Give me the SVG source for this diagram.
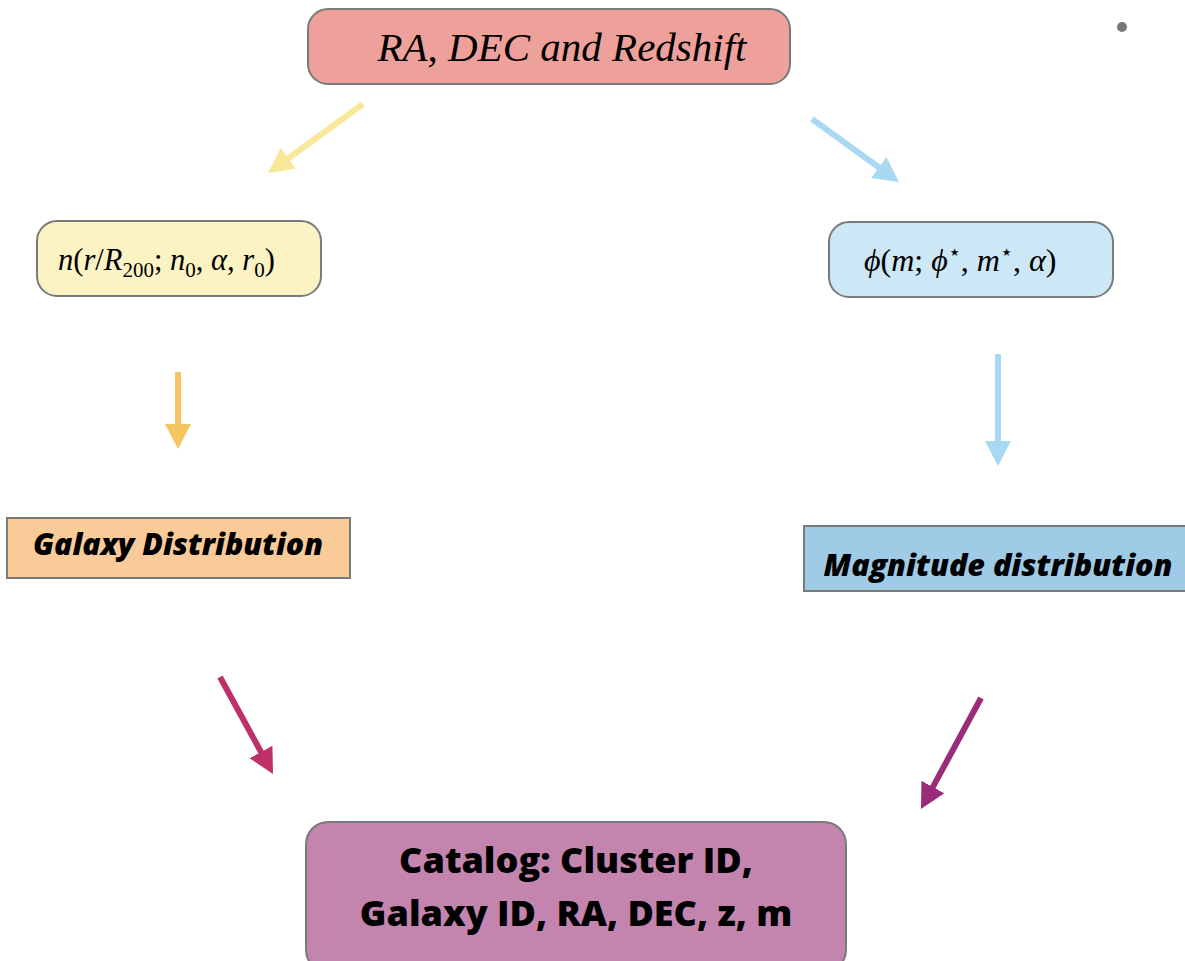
<svg xmlns="http://www.w3.org/2000/svg" width="1185" height="961" viewBox="0 0 1185 961">
<style>
.box{stroke:#7a7a7a;stroke-width:2}
.title{font-family:"Liberation Serif",serif;font-style:italic;font-size:41px;fill:#000}
.math{font-family:"Liberation Serif",serif;font-size:30.5px;fill:#000}
.math2{font-family:"Liberation Serif",serif;font-size:32px;fill:#000}
.it{font-style:italic}
.sub{font-size:21px}
.lab{font-family:"Open Sans",Lato,sans-serif;font-style:italic;font-weight:800;fill:#000}
.cat{font-family:"Open Sans",Lato,sans-serif;font-weight:800;font-size:36px;fill:#000}
.conn line{stroke-width:6;fill:none}
</style>
<defs>
<marker id="mY" markerUnits="userSpaceOnUse" markerWidth="26" markerHeight="28" refX="5" refY="13" orient="auto"><path d="M0,0 L25,13 L0,26 z" fill="#F9E79A"/></marker>
<marker id="mB" markerUnits="userSpaceOnUse" markerWidth="26" markerHeight="28" refX="5" refY="13" orient="auto"><path d="M0,0 L25,13 L0,26 z" fill="#A9D8F2"/></marker>
<marker id="mO" markerUnits="userSpaceOnUse" markerWidth="26" markerHeight="28" refX="5" refY="13" orient="auto"><path d="M0,0 L25,13 L0,26 z" fill="#F5C561"/></marker>
<marker id="mR" markerUnits="userSpaceOnUse" markerWidth="26" markerHeight="28" refX="5" refY="13" orient="auto"><path d="M0,0 L25,13 L0,26 z" fill="#BE3068"/></marker>
<marker id="mP" markerUnits="userSpaceOnUse" markerWidth="26" markerHeight="28" refX="5" refY="13" orient="auto"><path d="M0,0 L25,13 L0,26 z" fill="#9B2C7A"/></marker>
</defs>
<rect width="1185" height="961" fill="#fff"/>
<circle cx="1122" cy="27" r="5" fill="#777"/>
<g id="connectors" class="conn">
<line x1="363" y1="104" x2="284.2" y2="161.2" stroke="#F9E79A" marker-end="url(#mY)"/>
<line x1="812" y1="119" x2="882.8" y2="170.3" stroke="#A9D8F2" marker-end="url(#mB)"/>
<line x1="178" y1="372" x2="178" y2="429" stroke="#F5C561" marker-end="url(#mO)"/>
<line x1="998" y1="354" x2="998" y2="446" stroke="#A9D8F2" marker-end="url(#mB)"/>
<line x1="220" y1="677" x2="263.4" y2="756.4" stroke="#BE3068" marker-end="url(#mR)"/>
<line x1="981" y1="698" x2="930.5" y2="791.4" stroke="#9B2C7A" marker-end="url(#mP)"/>
</g>
<g id="n-top">
<rect class="box" x="308" y="9" width="482" height="75" rx="20" fill="#EEA19B"/>
<text class="title" x="562" y="61" text-anchor="middle">RA, DEC and Redshift</text>
</g>
<g id="n-radial">
<rect class="box" x="37" y="221" width="284" height="75" rx="20" fill="#FBF3C4"/>
<text class="math" x="58" y="270"><tspan class="it">n</tspan>(<tspan class="it">r</tspan>/<tspan class="it">R</tspan><tspan class="sub" dy="7">200</tspan><tspan dy="-7">; </tspan><tspan class="it">n</tspan><tspan class="sub" dy="7">0</tspan><tspan dy="-7">, </tspan><tspan class="it">α</tspan>, <tspan class="it">r</tspan><tspan class="sub" dy="7">0</tspan><tspan dy="-7">)</tspan></text>
</g>
<g id="n-lf">
<rect class="box" x="829" y="222" width="284" height="75" rx="20" fill="#CCE7F5"/>
<text class="math2" x="864" y="271"><tspan class="it">ϕ</tspan>(<tspan class="it">m</tspan>; <tspan class="it">ϕ</tspan><tspan class="sub" dy="-12">⋆</tspan><tspan dy="12">, </tspan><tspan class="it">m</tspan><tspan class="sub" dy="-12">⋆</tspan><tspan dy="12">, </tspan><tspan class="it">α</tspan>)</text>
</g>
<g id="n-galaxy">
<rect class="box" x="7" y="518" width="343" height="60" fill="#F9CB99"/>
<text class="lab" x="178" y="555" font-size="30.3" text-anchor="middle">Galaxy Distribution</text>
</g>
<g id="n-mag">
<rect class="box" x="804" y="526" width="390" height="65" fill="#9FCBE6"/>
<text class="lab" x="998" y="576" font-size="30.5" text-anchor="middle">Magnitude distribution</text>
</g>
<g id="n-catalog">
<rect class="box" x="306" y="822" width="540" height="150" rx="22" fill="#C384AE"/>
<text class="cat" x="576" y="873" text-anchor="middle">Catalog: Cluster ID,</text>
<text class="cat" x="576" y="926" text-anchor="middle">Galaxy ID, RA, DEC, z, m</text>
</g>
</svg>
